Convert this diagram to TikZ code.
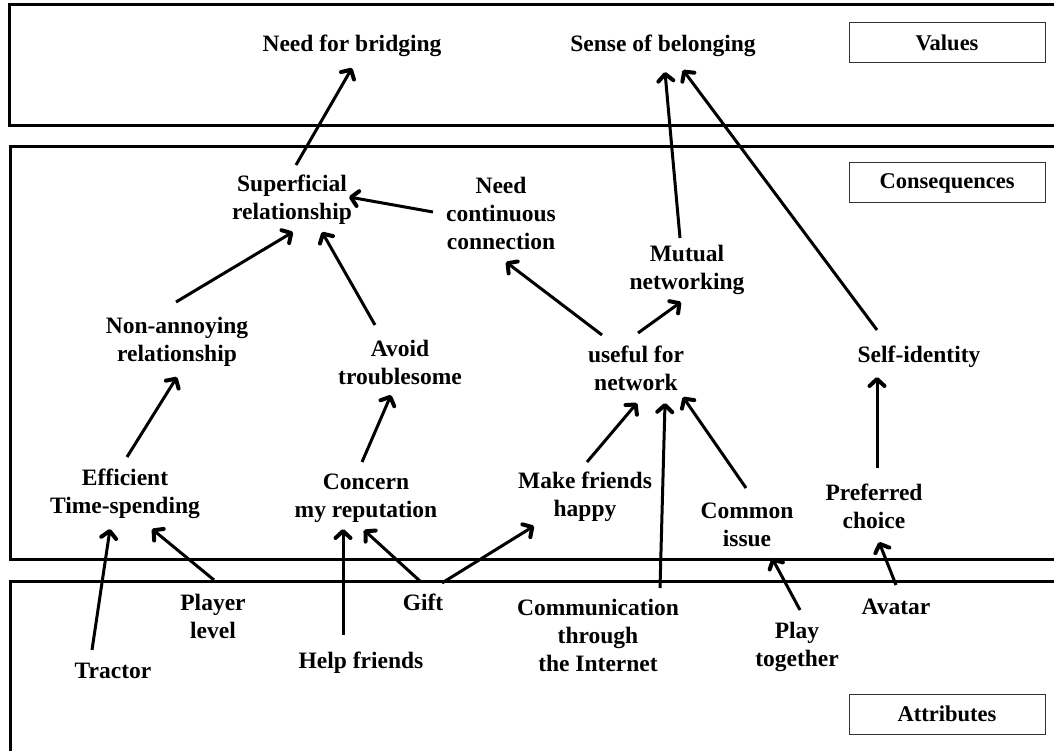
\documentclass[tikz,border=0pt]{standalone}
\usepackage{fontspec}
\setmainfont{Liberation Serif}
\usetikzlibrary{arrows.meta}
\begin{document}
\begin{tikzpicture}[x=1pt,y=-1pt,
  lbl/.style={font=\bfseries\fontsize{23.5}{28}\selectfont, align=center, inner sep=0pt},
  layer/.style={line width=3pt},
  tag/.style={draw=black!80, line width=1pt, minimum width=196pt, minimum height=40pt, font=\bfseries\fontsize{22.5}{27}\selectfont, inner sep=0pt},
  arr/.style={line width=3pt, -{Straight Barb[length=7pt,width=15pt,line width=4pt,round]}}]
\useasboundingbox (0,0) rectangle (1054,751);
\clip (0,0) rectangle (1054,751);
% layers
\draw[layer] (1070,5) -- (9,5) -- (9,126) -- (1070,126);
\draw[layer] (1070,147) -- (10,147) -- (10,559) -- (1070,559);
\draw[layer] (1070,581) -- (10,581) -- (10,770);
% tags
\node[tag] (tv) at (947,43) {Values};
\node[tag] (tc) at (947,183) {Consequences};
\node[tag] (ta) at (947,714) {Attributes};
% values
\node[lbl] (nfb) at (352,46) {Need for bridging};
\node[lbl] (sob) at (663,46) {Sense of belonging};
% consequences
\node[lbl] (sup) at (292,200) {Superficial\\relationship};
\node[lbl] (ncc) at (501,213) {Need\\continuous\\connection};
\node[lbl] (mut) at (687,270) {Mutual\\networking};
\node[lbl] (non) at (177,342) {Non-annoying\\relationship};
\node[lbl] (avo) at (400,362) {Avoid\\troublesome};
\node[lbl] (use) at (636,368) {useful for\\network};
\node[lbl] (sid) at (919,357) {Self-identity};
\node[lbl] (eff) at (125,494) {Efficient\\Time-spending};
\node[lbl] (con) at (366,498) {Concern\\my reputation};
\node[lbl] (mfh) at (585,497) {Make friends\\happy};
\node[lbl] (com) at (747,525) {Common\\issue};
\node[lbl] (pre) at (874,506) {Preferred\\choice};
% attributes
\node[lbl] (tra) at (113,671) {Tractor};
\node[lbl] (pla) at (213,616) {Player\\level};
\node[lbl] (hel) at (361,663) {Help friends};
\node[lbl] (gif) at (423,602) {Gift};
\node[lbl] (cti) at (598,635) {Communication\\through\\the Internet};
\node[lbl] (pto) at (797,647) {Play\\together};
\node[lbl] (ava) at (896,607) {Avatar};
% arrows
\draw[arr] ([shift={(4,-35)}]sup.center) -- ([shift={(0,22)}]nfb.center);
\draw[arr] ([shift={(-7,-32)}]mut.center) -- ([shift={(2,26)}]sob.center);
\draw[arr] ([shift={(-42,-27)}]sid.center) -- ([shift={(20,24)}]sob.center);
\draw[arr] ([shift={(-68,-1)}]ncc.center) -- ([shift={(57,-3)}]sup.center);
\draw[arr] ([shift={(-1,-40)}]non.center) -- ([shift={(1,32)}]sup.center);
\draw[arr] ([shift={(-25,-37)}]avo.center) -- ([shift={(30,32)}]sup.center);
\draw[arr] ([shift={(-34,-33)}]use.center) -- ([shift={(5,49)}]ncc.center);
\draw[arr] ([shift={(2,-35)}]use.center) -- ([shift={(-6,32)}]mut.center);
\draw[arr] ([shift={(2,-37)}]eff.center) -- ([shift={(0,35)}]non.center);
\draw[arr] ([shift={(-4,-36)}]con.center) -- ([shift={(-9,33)}]avo.center);
\draw[arr] ([shift={(2,-35)}]mfh.center) -- ([shift={(1,35)}]use.center);
\draw[arr] ([shift={(62,-47)}]cti.center) -- ([shift={(29,35)}]use.center);
\draw[arr] ([shift={(-1,-37)}]com.center) -- ([shift={(47,29)}]use.center);
\draw[arr] ([shift={(3,-38)}]pre.center) -- ([shift={(-42,20)}]sid.center);
\draw[arr] ([shift={(-21,-21)}]tra.center) -- ([shift={(-15,35)}]eff.center);
\draw[arr] ([shift={(1,-36)}]pla.center) -- ([shift={(27,35)}]eff.center);
\draw[arr] ([shift={(-18,-28)}]hel.center) -- ([shift={(-23,31)}]con.center);
\draw[arr] ([shift={(-2,-20)}]gif.center) -- ([shift={(-2,32)}]con.center);
\draw[arr] ([shift={(19,-19)}]gif.center) -- ([shift={(-51,29)}]mfh.center);
\draw[arr] ([shift={(3,-37)}]pto.center) -- ([shift={(25,33)}]com.center);
\draw[arr] ([shift={(0,-22)}]ava.center) -- ([shift={(5,36)}]pre.center);
\end{tikzpicture}
\end{document}
